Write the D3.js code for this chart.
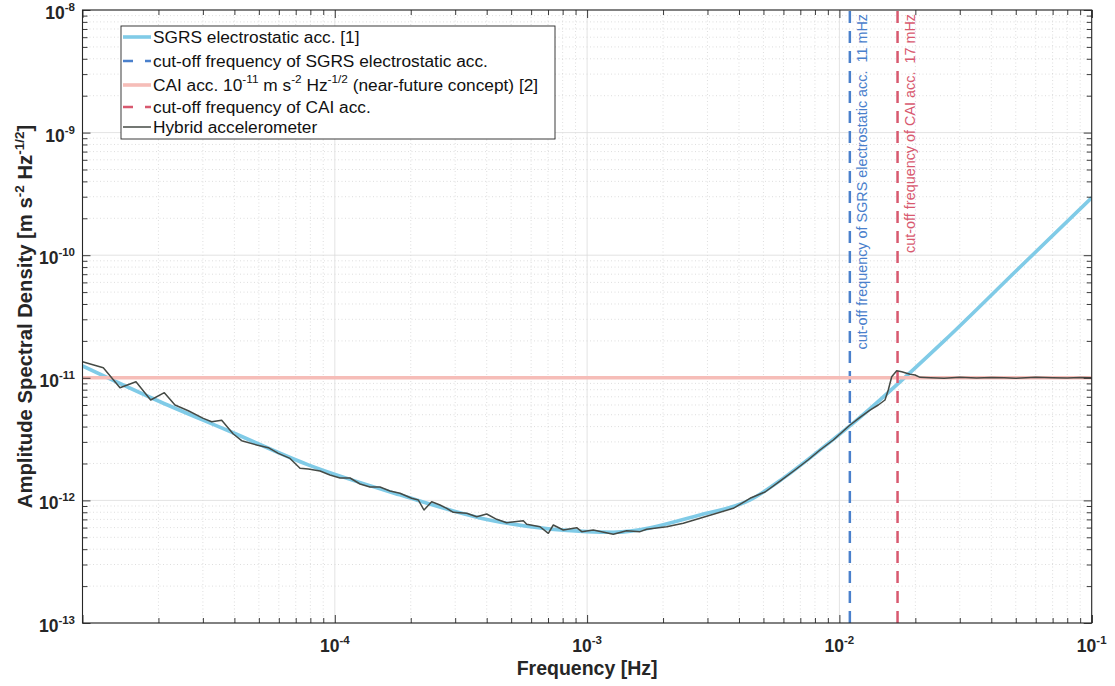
<!DOCTYPE html>
<html><head><meta charset="utf-8">
<script src="https://cdn.jsdelivr.net/npm/d3@7"></script>
<style>
body{margin:0;background:#fff}
text{font-family:"Liberation Sans",Arial,Helvetica,sans-serif}
</style>
</head><body>
<svg id="chart" width="1115" height="686"></svg>
<script>
// ---------------- data ----------------
const sgrsFreq = [1e-5, 2.03e-5, 3.73e-5, 7.85e-5, 1.81e-4, 4.0e-4, 1.0e-3, 1.27e-3, 2.8e-3, 4.43e-3, 6.0e-3, 8.38e-3, 1.1e-2, 2.62e-2, 5.0e-2, 1e-1];
const sgrsASD  = [1.25e-11, 6.38e-12, 3.75e-12, 1.95e-12, 1.11e-12, 7.0e-13, 5.56e-13, 5.5e-13, 7.6e-13, 1.01e-12, 1.52e-12, 2.58e-12, 4.05e-12, 2.03e-11, 7.4e-11, 2.94e-10];

const hybridFreq = [1.0e-5,1.209e-5,1.408e-5,1.629e-5,1.863e-5,2.110e-5,2.326e-5,2.626e-5,3.012e-5,3.251e-5,3.562e-5,3.960e-5,4.275e-5,4.901e-5,5.450e-5,5.972e-5,6.644e-5,7.280e-5,7.852e-5,
 8.74e-5,9.57e-5,1.049e-4,1.149e-4,1.259e-4,1.379e-4,1.510e-4,1.655e-4,1.813e-4,2.017e-4,2.142e-4,2.257e-4,2.421e-4,2.612e-4,2.777e-4,2.949e-4,3.333e-4,3.651e-4,4.000e-4,4.382e-4,4.800e-4,5.587e-4,5.763e-4,6.506e-4,7.019e-4,7.345e-4,8.045e-4,9.094e-4,9.52e-4,1.058e-3,1.270e-3,1.435e-3,1.621e-3,1.722e-3,2.067e-3,2.406e-3,2.802e-3,3.264e-3,3.797e-3,4.423e-3,5.073e-3,5.815e-3,6.668e-3,7.508e-3,8.378e-3,9.458e-3,1.102e-2,1.207e-2,1.322e-2,1.426e-2,1.516e-2,1.562e-2,1.612e-2,1.687e-2,1.766e-2,1.905e-2,1.994e-2,2.088e-2,
 2.3e-2,2.6e-2,3.0e-2,3.5e-2,4.0e-2,4.5e-2,5.0e-2,6.0e-2,7.0e-2,8.0e-2,9.0e-2,1.0e-1];
const hybridASD = [1.353e-11,1.209e-11,8.30e-12,9.29e-12,6.59e-12,7.56e-12,6.00e-12,5.39e-12,4.67e-12,4.38e-12,4.50e-12,3.48e-12,3.07e-12,2.83e-12,2.69e-12,2.42e-12,2.20e-12,1.83e-12,1.80e-12,
 1.737e-12,1.611e-12,1.523e-12,1.523e-12,1.361e-12,1.286e-12,1.286e-12,1.193e-12,1.143e-12,1.040e-12,1.008e-12,8.35e-13,9.76e-13,9.17e-13,8.62e-13,8.00e-13,7.85e-13,7.36e-13,7.75e-13,7.01e-13,6.58e-13,6.83e-13,6.39e-13,6.10e-13,5.39e-13,6.30e-13,5.74e-13,5.99e-13,5.56e-13,5.74e-13,5.29e-13,5.66e-13,5.56e-13,5.81e-13,6.10e-13,6.51e-13,7.14e-13,7.85e-13,8.62e-13,1.040e-12,1.171e-12,1.439e-12,1.770e-12,2.135e-12,2.577e-12,3.109e-12,4.121e-12,4.76e-12,5.46e-12,6.00e-12,6.59e-12,7.95e-12,1.021e-11,1.143e-11,1.121e-11,1.068e-11,1.054e-11,1.009e-11,
 1.00e-11,0.99e-11,1.01e-11,0.995e-11,1.005e-11,1.0e-11,0.99e-11,1.01e-11,1.0e-11,0.995e-11,1.005e-11,1.0e-11];

const caiLevel = 1e-11;
const cutoffSGRS = 0.011;   // Hz
const cutoffCAI  = 0.017;   // Hz

const xTickExps = [-4, -3, -2, -1];
const yTickExps = [-13, -12, -11, -10, -9, -8];
const xTitle = "Frequency [Hz]";
const yTitleParts = [["Amplitude Spectral Density [m s"], ["-2", 1], [" Hz"], ["-1/2", 1], ["]"]];
const cutoffSGRSLabel = "cut-off frequency of SGRS electrostatic acc.\u00a0\u00a011 mHz";
const cutoffCAILabel  = "cut-off frequency of CAI acc.\u00a0\u00a017 mHz";
const legendLabels = [
  [["SGRS electrostatic acc. [1]"]],
  [["cut-off frequency of SGRS electrostatic acc."]],
  [["CAI acc. 10"], ["-11", 1], [" m s"], ["-2", 1], [" Hz"], ["-1/2", 1], [" (near-future concept) [2]"]],
  [["cut-off frequency of CAI acc."]],
  [["Hybrid accelerometer"]]
];

// ---------------- styles ----------------
const C = {
  sgrs: "#80cbe7", sgrsCut: "#4a80cc", cai: "#f6bdb8", caiCut: "#d8596f",
  hybrid: "#454a45", axis: "#262626", grid: "#dcdcdc", minor: "#c8c8c8"
};

const svg = d3.select("#chart");
const L = 82.5, R = 1091.7, T = 10, B = 623;
const x = d3.scaleLog().domain([1e-5, 1e-1]).range([L, R]);
const y = d3.scaleLog().domain([1e-13, 1e-8]).range([B, T]);

const xMajor = d3.range(-5, 0).map(e => Math.pow(10, e));
const yMajor = d3.range(-13, -7).map(e => Math.pow(10, e));
const xMinor = [], yMinor = [];
for (let e = -5; e < -1; e++) for (let m = 2; m <= 9; m++) xMinor.push(m * Math.pow(10, e));
for (let e = -13; e < -8; e++) for (let m = 2; m <= 9; m++) yMinor.push(m * Math.pow(10, e));

// grid
const g = svg.append("g");
g.selectAll(".xmin").data(xMinor).join("line")
  .attr("x1", d => x(d)).attr("x2", d => x(d)).attr("y1", T).attr("y2", B)
  .attr("stroke", C.minor).attr("stroke-width", 0.6).attr("stroke-dasharray", "1,2.5");
g.selectAll(".ymin").data(yMinor).join("line")
  .attr("y1", d => y(d)).attr("y2", d => y(d)).attr("x1", L).attr("x2", R)
  .attr("stroke", C.minor).attr("stroke-width", 0.6).attr("stroke-dasharray", "1,2.5");
g.selectAll(".xmaj").data(xMajor).join("line")
  .attr("x1", d => x(d)).attr("x2", d => x(d)).attr("y1", T).attr("y2", B)
  .attr("stroke", C.grid).attr("stroke-width", 0.8);
g.selectAll(".ymaj").data(yMajor).join("line")
  .attr("y1", d => y(d)).attr("y2", d => y(d)).attr("x1", L).attr("x2", R)
  .attr("stroke", C.grid).attr("stroke-width", 0.8);

svg.append("clipPath").attr("id", "clip").append("rect")
  .attr("x", L).attr("y", T).attr("width", R - L).attr("height", B - T);
const plot = svg.append("g").attr("clip-path", "url(#clip)");

// SGRS
plot.append("path")
  .datum(sgrsFreq.map((f, i) => [f, sgrsASD[i]]))
  .attr("d", d3.line().x(d => x(d[0])).y(d => y(d[1])).curve(d3.curveMonotoneX))
  .attr("fill", "none").attr("stroke", C.sgrs).attr("stroke-width", 3.6);

// SGRS cutoff
plot.append("line").attr("x1", x(cutoffSGRS)).attr("x2", x(cutoffSGRS)).attr("y1", B).attr("y2", T)
  .attr("stroke", C.sgrsCut).attr("stroke-width", 2.5).attr("stroke-dasharray", "12,8");

// CAI
plot.append("line").attr("x1", L).attr("x2", R).attr("y1", y(caiLevel)).attr("y2", y(caiLevel))
  .attr("stroke", C.cai).attr("stroke-width", 3.6);

// CAI cutoff
plot.append("line").attr("x1", x(cutoffCAI)).attr("x2", x(cutoffCAI)).attr("y1", B).attr("y2", T)
  .attr("stroke", C.caiCut).attr("stroke-width", 2.5).attr("stroke-dasharray", "12,8");

// Hybrid
plot.append("path")
  .datum(hybridFreq.map((f, i) => [f, hybridASD[i]]))
  .attr("d", d3.line().x(d => x(d[0])).y(d => y(d[1])))
  .attr("fill", "none").attr("stroke", C.hybrid).attr("stroke-width", 1.5).attr("stroke-linejoin", "round");

// vertical labels
svg.append("text").attr("transform", `translate(${x(cutoffSGRS) + 17},14) rotate(-90)`)
  .attr("text-anchor", "end").attr("font-size", 14.4).attr("fill", C.sgrsCut).text(cutoffSGRSLabel);
svg.append("text").attr("transform", `translate(${x(cutoffCAI) + 17},14) rotate(-90)`)
  .attr("text-anchor", "end").attr("font-size", 14.4).attr("fill", C.caiCut).text(cutoffCAILabel);

// axes ticks (inside, all sides)
function ticks(axisFn, scale, vals, size, transform) {
  svg.append("g").attr("transform", transform)
    .call(axisFn(scale).tickValues(vals).tickSize(size).tickFormat(""))
    .call(s => s.select(".domain").remove())
    .call(s => s.selectAll("line").attr("stroke", C.axis).attr("stroke-width", 0.9));
}
ticks(d3.axisBottom, x, xMajor.concat([1e-1]), -8, `translate(0,${B})`);
ticks(d3.axisBottom, x, xMinor, -5, `translate(0,${B})`);
ticks(d3.axisTop, x, xMajor.concat([1e-1]), -8, `translate(0,${T})`);
ticks(d3.axisTop, x, xMinor, -5, `translate(0,${T})`);
ticks(d3.axisLeft, y, yMajor, -8, `translate(${L},0)`);
ticks(d3.axisLeft, y, yMinor, -5, `translate(${L},0)`);
ticks(d3.axisRight, y, yMajor, -8, `translate(${R},0)`);
ticks(d3.axisRight, y, yMinor, -5, `translate(${R},0)`);

svg.append("rect").attr("x", L).attr("y", T).attr("width", R - L).attr("height", B - T)
  .attr("fill", "none").attr("stroke", C.axis).attr("stroke-width", 1.1);

function rich(sel, parts, base, sup, shift) {
  let up = false;
  parts.forEach(p => {
    const t = sel.append("tspan").text(p[0]);
    if (p[1]) { t.attr("font-size", sup).attr("dy", up ? 0 : -shift); up = true; }
    else { t.attr("font-size", base); if (up) { t.attr("dy", shift); up = false; } }
  });
}

xTickExps.forEach(e => {
  const t = svg.append("text").attr("x", x(Math.pow(10, e))).attr("y", 652)
    .attr("text-anchor", "middle").attr("font-weight", "bold").attr("fill", C.axis);
  rich(t, [["10"], ["" + e, 1]], 17.5, 11.5, 8);
});
yTickExps.forEach(e => {
  const t = svg.append("text").attr("x", 75).attr("y", y(Math.pow(10, e)) + 9)
    .attr("text-anchor", "end").attr("font-weight", "bold").attr("fill", C.axis);
  rich(t, [["10"], ["" + e, 1]], 17.5, 11.5, 8);
});

svg.append("text").attr("x", (L + R) / 2).attr("y", 675).attr("text-anchor", "middle")
  .attr("font-weight", "bold").attr("font-size", 19.5).attr("fill", C.axis).text(xTitle);
const yt = svg.append("text").attr("transform", `translate(32,${(T + B) / 2}) rotate(-90)`)
  .attr("text-anchor", "middle").attr("font-weight", "bold").attr("fill", C.axis);
rich(yt, yTitleParts, 20.3, 13.5, 8.5);

// legend
const lg = svg.append("g");
lg.append("rect").attr("x", 121).attr("y", 26).attr("width", 434).attr("height", 113)
  .attr("fill", "#fff").attr("stroke", C.axis).attr("stroke-width", 0.9);
const rowsY = [37, 61, 85, 107, 127];
const legStyles = [
  {c: C.sgrs, w: 3.6, d: null}, {c: C.sgrsCut, w: 2.5, d: "10,12"},
  {c: C.cai, w: 3.6, d: null}, {c: C.caiCut, w: 2.5, d: "10,12"}, {c: C.hybrid, w: 1.5, d: null}
];
legendLabels.forEach((parts, i) => {
  const s = legStyles[i];
  const ln = lg.append("line").attr("x1", 123).attr("x2", 151).attr("y1", rowsY[i]).attr("y2", rowsY[i])
    .attr("stroke", s.c).attr("stroke-width", s.w);
  if (s.d) ln.attr("stroke-dasharray", s.d);
  const t = lg.append("text").attr("x", 153).attr("y", rowsY[i] + 6).attr("fill", "#111");
  rich(t, parts, 17.3, 11.8, 8);
});
</script>
</body></html>
